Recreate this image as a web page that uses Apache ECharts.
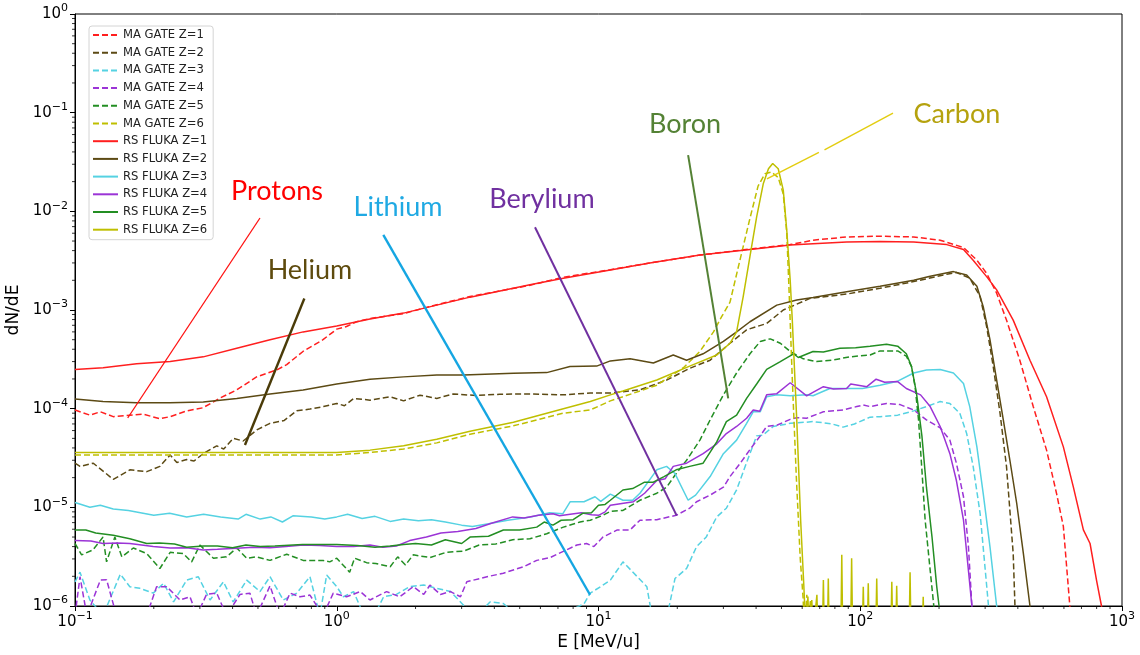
<!DOCTYPE html>
<html>
<head>
<meta charset="utf-8">
<script src="https://cdn.jsdelivr.net/npm/echarts/dist/echarts.min.js"></script>
<style>
  html, body { margin: 0; padding: 0; background: #fff; }
  #chart { width: 1140px; height: 655px; }
</style>
</head>
<body>
<div id="chart"></div>
<script>
// Energy spectra dN/dE versus E [MeV/u], pairs of [E, dN/dE]

// MA GATE (dashed)
const maZ1 = [[0.1,0.97e-4],[0.114,0.86e-4],[0.125,0.93e-4],[0.14,0.83e-4],[0.162,0.86e-4],[0.182,0.88e-4],[0.211,0.79e-4],[0.231,0.83e-4],[0.267,0.95e-4],[0.308,1.02e-4],[0.358,1.28e-4],[0.415,1.55e-4],[0.494,2.1e-4],[0.59,2.47e-4],[0.644,2.8e-4],[0.743,3.8e-4],[0.886,5.0e-4],[1.0,6.4e-4],[1.09,6.8e-4],[1.19,7.6e-4],[1.34,8.2e-4],[1.8,9.2e-4],[2.41,1.13e-3],[3.23,1.37e-3],[5.47,1.78e-3],[7.34,2.15e-3],[11.1,2.56e-3],[15.7,3.0e-3],[24.4,3.6e-3],[37.9,4.15e-3],[54,4.6e-3],[66,5.1e-3],[88.7,5.5e-3],[119,5.6e-3],[160,5.5e-3],[202,5.1e-3],[248,4.3e-3],[279,3.2e-3],[304,2.35e-3],[332,1.48e-3],[362,7.9e-4],[407,3.1e-4],[458,1.05e-4],[515,3.8e-5],[562,1.39e-5],[597,6.4e-6],[632,1.0e-6],[650,4e-7]];

const maZ2 = [[0.1,2.8e-5],[0.1045,2.6e-5],[0.1175,2.8e-5],[0.14,1.92e-5],[0.162,2.4e-5],[0.188,2.3e-5],[0.211,2.6e-5],[0.231,3.4e-5],[0.245,2.85e-5],[0.267,3.05e-5],[0.285,2.95e-5],[0.309,3.5e-5],[0.348,4.2e-5],[0.37,3.9e-5],[0.402,5.0e-5],[0.439,4.7e-5],[0.495,6.1e-5],[0.556,7.1e-5],[0.63,7.6e-5],[0.703,9.5e-5],[0.79,9.9e-5],[0.89,1.05e-4],[1.0,1.13e-4],[1.07,1.07e-4],[1.16,1.27e-4],[1.34,1.22e-4],[1.6,1.32e-4],[1.8,1.2e-4],[2.08,1.37e-4],[2.41,1.27e-4],[2.79,1.41e-4],[3.4,1.36e-4],[4.2,1.4e-4],[5.47,1.41e-4],[7.34,1.38e-4],[9.3,1.44e-4],[11.1,1.44e-4],[14.4,1.55e-4],[18.2,1.95e-4],[22.3,2.56e-4],[26.7,3.1e-4],[31.8,4.6e-4],[36.8,6.3e-4],[43.9,7.3e-4],[50.8,1.0e-3],[64.3,1.31e-3],[88.7,1.45e-3],[119,1.66e-3],[160,1.94e-3],[214,2.3e-3],[233,2.4e-3],[262,2.1e-3],[287,1.37e-3],[304,6.8e-4],[322,2.7e-4],[342,9.0e-5],[362,2.6e-5],[384,3.4e-6],[390,1.0e-6],[400,5e-7]];

const maZ3 = [[0.1,1.75e-6],[0.1045,2.2e-6],[0.114,1.15e-6],[0.128,8e-7],[0.149,2.1e-6],[0.162,1.57e-6],[0.177,1.51e-6],[0.199,1.35e-6],[0.218,1.7e-6],[0.238,1.1e-6],[0.267,1.83e-6],[0.296,1.98e-6],[0.328,1.15e-6],[0.369,1.76e-6],[0.402,1.1e-6],[0.453,1.83e-6],[0.509,1.4e-6],[0.556,1.98e-6],[0.625,1.15e-6],[0.703,1.35e-6],[0.79,1.98e-6],[0.862,8e-7],[0.915,2.06e-6],[1.0,1.57e-6],[1.06,1.24e-6],[1.16,1.4e-6],[1.27,8e-7],[1.39,8e-7],[1.51,1.24e-6],[1.69,1.31e-6],[1.9,1.57e-6],[2.15,1.63e-6],[2.41,1.51e-6],[2.72,1.4e-6],[3.05,1.02e-6],[3.43,8e-7],[3.85,1.1e-6],[4.33,1.06e-6],[4.9,8e-7],[5.6,9e-7],[6.2,8e-7],[7.0,9e-7],[8.1,9.5e-7],[8.8,1.05e-6],[9.3,1.35e-6],[10.3,1.6e-6],[11.1,1.83e-6],[12.4,2.8e-6],[15.3,1.57e-6],[16,8e-7],[18.3,8e-7],[19.6,1.9e-6],[21.7,2.4e-6],[23.7,4.0e-6],[25.8,5.0e-6],[28.3,8.0e-6],[30.8,9.8e-6],[33.7,1.5e-5],[36.8,2.85e-5],[40.2,5.3e-5],[42.5,5.4e-5],[46.5,6.6e-5],[54,7.1e-5],[62.4,7.3e-5],[66,7.4e-5],[72,7.2e-5],[78,7.0e-5],[86,6.5e-5],[95,7.0e-5],[109,8.2e-5],[119,8.3e-5],[139,8.6e-5],[160,9.5e-5],[179,1.05e-4],[202,1.18e-4],[220,1.13e-4],[240,9.0e-5],[255,5.6e-5],[270,2.6e-5],[287,8.7e-6],[298,2.9e-6],[309,1.0e-6],[320,5e-7]];

const maZ4 = [[0.1,8e-7],[0.1045,1.98e-6],[0.111,8e-7],[0.125,1.83e-6],[0.132,1.85e-6],[0.144,8e-7],[0.188,8e-7],[0.205,1.57e-6],[0.224,1.57e-6],[0.252,1.15e-6],[0.275,1.24e-6],[0.292,8e-7],[0.318,1.31e-6],[0.348,1.35e-6],[0.379,8e-7],[0.427,1.31e-6],[0.466,1.35e-6],[0.494,8e-7],[0.556,1.6e-6],[0.607,8e-7],[0.663,1.35e-6],[0.724,1.24e-6],[0.79,1.29e-6],[0.886,8e-7],[0.97,1.35e-6],[1.09,1.24e-6],[1.23,1.4e-6],[1.34,1.15e-6],[1.55,1.4e-6],[1.74,1.24e-6],[1.96,1.57e-6],[2.15,1.31e-6],[2.27,1.63e-6],[2.49,1.31e-6],[2.72,1.4e-6],[2.97,1.24e-6],[3.14,1.76e-6],[3.75,1.98e-6],[4.33,2.15e-6],[5.17,2.5e-6],[5.81,2.9e-6],[6.54,3.1e-6],[7.37,3.6e-6],[8.27,4.15e-6],[9.0,4.3e-6],[9.6,4.0e-6],[10.4,5.0e-6],[11.8,5.9e-6],[13.2,5.9e-6],[14.4,7.4e-6],[16.7,7.5e-6],[19.8,8.3e-6],[22.3,9.8e-6],[23.7,1.14e-5],[26.7,1.33e-5],[30,1.6e-5],[31.8,2.05e-5],[34.8,2.8e-5],[37.9,3.85e-5],[41.5,5.3e-5],[43.9,6.6e-5],[48,6.8e-5],[54,7.8e-5],[57.2,8.1e-5],[62.4,8.0e-5],[72.3,9.3e-5],[86,9.7e-5],[97,1.05e-4],[102.7,1.09e-4],[109,1.05e-4],[126,1.13e-4],[142,1.1e-4],[160,9.7e-5],[179,7.7e-5],[202,6.4e-5],[220,4.8e-5],[233,2.8e-5],[248,1.28e-5],[259,4.0e-6],[267,1.0e-6],[275,5e-7]];

const maZ5 = [[0.1,4.3e-6],[0.106,3.3e-6],[0.117,3.7e-6],[0.128,5.0e-6],[0.132,2.8e-6],[0.142,5.0e-6],[0.151,3.15e-6],[0.167,3.87e-6],[0.188,3.4e-6],[0.211,2.4e-6],[0.231,3.5e-6],[0.259,3.4e-6],[0.279,2.8e-6],[0.3,4.15e-6],[0.338,3.05e-6],[0.379,3.15e-6],[0.415,3.87e-6],[0.453,3.05e-6],[0.494,3.15e-6],[0.556,2.9e-6],[0.644,3.35e-6],[0.744,2.9e-6],[0.886,2.9e-6],[0.94,2.8e-6],[1.0,3.05e-6],[1.12,2.2e-6],[1.17,3.05e-6],[1.3,2.75e-6],[1.41,2.7e-6],[1.6,2.5e-6],[1.71,3.15e-6],[1.83,2.6e-6],[1.96,3.3e-6],[2.27,3.1e-6],[2.62,3.5e-6],[3.05,3.6e-6],[3.5,4.15e-6],[4.05,4.25e-6],[4.7,4.7e-6],[5.47,4.8e-6],[6.34,5.4e-6],[7.34,6.3e-6],[8.5,7.1e-6],[9.3,7.4e-6],[10.4,8.3e-6],[11.1,9.1e-6],[12.4,9.3e-6],[14.4,1.18e-5],[16.7,1.39e-5],[18.2,1.6e-5],[19.8,2.2e-5],[21.7,3.0e-5],[24.4,4.8e-5],[26.7,7.7e-5],[30,1.38e-4],[33.7,2.3e-4],[37.9,3.6e-4],[41.5,4.8e-4],[45.3,5.1e-4],[49.5,4.6e-4],[54,3.8e-4],[60.6,3.2e-4],[68,3.0e-4],[78,3.1e-4],[91,3.35e-4],[109,3.5e-4],[119,3.85e-4],[139,3.85e-4],[150,3.4e-4],[157,2.67e-4],[162,1.67e-4],[167,7.7e-5],[172,2.4e-5],[177,7.4e-6],[185,2.3e-6],[191,1.0e-6],[196,5e-7]];

const maZ6 = [[0.1,3.4e-5],[0.3,3.4e-5],[1.0,3.4e-5],[1.34,3.6e-5],[1.8,3.9e-5],[2.41,4.5e-5],[3.23,5.5e-5],[4.73,6.7e-5],[7.34,9.0e-5],[9.3,9.7e-5],[11.1,1.2e-4],[12.4,1.32e-4],[16.7,1.73e-4],[21.1,2.6e-4],[24.4,3.8e-4],[27.5,6.0e-4],[29.5,8.5e-4],[31.8,1.2e-3],[34.8,3.3e-3],[37.9,8.5e-3],[40.7,1.8e-2],[43.2,2.4e-2],[45.8,2.5e-2],[48.6,2.2e-2],[50.8,1.5e-2],[52.4,6.0e-3],[53.5,1.5e-3],[55,2.0e-4],[57,2.0e-5],[59,3.0e-6],[60.5,1.2e-6],[61.2,5e-7],[62.5,1.3e-6],[63.2,5e-7],[64.5,1.15e-6],[65.2,5e-7]];

// RS FLUKA (solid)
const rsZ1 = [[0.1,2.5e-4],[0.128,2.6e-4],[0.172,2.85e-4],[0.231,3.0e-4],[0.309,3.35e-4],[0.415,4.1e-4],[0.556,5.0e-4],[0.744,6.0e-4],[1.0,6.9e-4],[1.34,8.1e-4],[1.8,9.3e-4],[2.41,1.12e-3],[3.23,1.35e-3],[5.47,1.8e-3],[7.34,2.1e-3],[11.1,2.55e-3],[15.7,3.0e-3],[24.4,3.6e-3],[37.9,4.1e-3],[54,4.55e-3],[66,4.7e-3],[88.7,4.9e-3],[119,4.95e-3],[160,4.9e-3],[214,4.6e-3],[248,4.1e-3],[270,3.2e-3],[304,2.18e-3],[332,1.6e-3],[384,7.9e-4],[445,3.1e-4],[515,1.32e-4],[597,4.1e-5],[652,1.6e-5],[712,5.9e-6],[755,4.3e-6],[800,1.8e-6],[835,1.0e-6],[860,5e-7]];

const rsZ2 = [[0.1,1.25e-4],[0.128,1.18e-4],[0.172,1.15e-4],[0.23,1.15e-4],[0.309,1.17e-4],[0.415,1.27e-4],[0.556,1.41e-4],[0.744,1.55e-4],[1.0,1.78e-4],[1.34,1.99e-4],[1.8,2.1e-4],[2.41,2.2e-4],[3.05,2.2e-4],[4.73,2.28e-4],[6.34,2.32e-4],[7.78,2.67e-4],[9.84,2.7e-4],[11.1,3.05e-4],[13.2,3.2e-4],[16.2,2.9e-4],[19.3,3.5e-4],[21.7,3.1e-4],[25.1,3.6e-4],[30,4.8e-4],[33.7,6.0e-4],[37.9,7.6e-4],[48,1.12e-3],[57.2,1.26e-3],[66,1.34e-3],[88.7,1.53e-3],[119,1.74e-3],[160,2.0e-3],[185,2.2e-3],[227,2.45e-3],[255,2.26e-3],[279,1.74e-3],[295,1.08e-3],[313,5.0e-4],[332,1.95e-4],[352,7.7e-5],[373,3.0e-5],[396,1.1e-5],[420,3.4e-6],[445,1.0e-6],[460,5e-7]];

const rsZ3 = [[0.1,1.12e-5],[0.114,1.0e-5],[0.125,1.05e-5],[0.14,0.96e-5],[0.16,0.93e-5],[0.2,8.3e-6],[0.23,8.7e-6],[0.267,8.0e-6],[0.31,8.5e-6],[0.36,8.0e-6],[0.42,7.6e-6],[0.45,8.5e-6],[0.51,7.6e-6],[0.56,8.0e-6],[0.62,7.1e-6],[0.68,8.2e-6],[0.8,8.0e-6],[0.9,7.6e-6],[1.0,8.0e-6],[1.1,8.5e-6],[1.25,7.7e-6],[1.4,8.1e-6],[1.6,7.2e-6],[1.8,7.6e-6],[2.05,7.3e-6],[2.3,7.5e-6],[2.6,7.1e-6],[3.0,6.6e-6],[3.3,6.4e-6],[3.8,6.8e-6],[4.5,7.4e-6],[5.5,8.0e-6],[6.5,8.8e-6],[7.3,8.6e-6],[7.8,1.14e-5],[8.8,1.14e-5],[9.7,1.28e-5],[10.2,1.15e-5],[11.1,1.36e-5],[12.4,1.18e-5],[13.5,1.18e-5],[14.4,1.39e-5],[16.7,2.4e-5],[18.2,2.6e-5],[19.6,2.2e-5],[22.0,1.18e-5],[23.5,1.33e-5],[26.7,2.05e-5],[30,3.5e-5],[33.7,4.8e-5],[36.8,7.1e-5],[39,9.3e-5],[41.5,9.3e-5],[43.9,1.32e-4],[48,1.38e-4],[54,1.35e-4],[62.4,1.38e-4],[66,1.35e-4],[72.3,1.5e-4],[76.6,1.6e-4],[88.7,1.6e-4],[102,1.6e-4],[119,1.73e-4],[139,1.9e-4],[160,2.3e-4],[179,2.47e-4],[202,2.5e-4],[227,2.3e-4],[248,1.8e-4],[262,1.05e-4],[279,4.1e-5],[295,1.38e-5],[313,4.0e-6],[332,1.0e-6],[345,5e-7]];

const rsZ4 = [[0.1,4.6e-6],[0.115,4.55e-6],[0.128,4.3e-6],[0.145,4.35e-6],[0.162,4.3e-6],[0.199,4.0e-6],[0.231,3.87e-6],[0.267,3.9e-6],[0.309,3.7e-6],[0.35,3.75e-6],[0.415,3.85e-6],[0.48,3.95e-6],[0.556,3.9e-6],[0.64,4.0e-6],[0.744,4.15e-6],[0.86,4.1e-6],[1.0,4.0e-6],[1.16,4.0e-6],[1.34,4.15e-6],[1.5,3.95e-6],[1.69,4.05e-6],[1.9,4.6e-6],[2.2,5.0e-6],[2.5,5.5e-6],[2.9,5.7e-6],[3.4,6.1e-6],[3.9,6.9e-6],[4.7,8.0e-6],[5.2,7.8e-6],[5.9,8.3e-6],[6.7,8.6e-6],[7.1,8.2e-6],[7.8,8.5e-6],[8.6,8.8e-6],[9.4,8.4e-6],[10.0,8.3e-6],[10.6,9.0e-6],[11.1,1.05e-5],[13.6,1.14e-5],[15,1.39e-5],[16.7,1.87e-5],[18,1.95e-5],[19.3,2.6e-5],[21.7,2.8e-5],[25.1,3.5e-5],[28.3,4.4e-5],[30.8,5.6e-5],[33.7,6.6e-5],[36.8,8.0e-5],[39,9.7e-5],[41.3,9.4e-5],[43.9,1.38e-4],[48,1.42e-4],[54,1.83e-4],[62.4,1.35e-4],[72.3,1.67e-4],[79,1.58e-4],[88.7,1.6e-4],[92,1.78e-4],[106,1.67e-4],[115,1.99e-4],[124,1.85e-4],[139,1.88e-4],[150,1.6e-4],[170,1.38e-4],[185,1.05e-4],[202,6.6e-5],[220,3.5e-5],[233,1.87e-5],[248,7.4e-6],[259,2.3e-6],[267,1.0e-6],[275,5e-7]];

const rsZ5 = [[0.1,5.9e-6],[0.11,5.9e-6],[0.12,5.5e-6],[0.14,5.2e-6],[0.162,4.8e-6],[0.188,4.3e-6],[0.21,4.35e-6],[0.24,4.25e-6],[0.267,3.94e-6],[0.31,4.05e-6],[0.35,4.05e-6],[0.4,3.9e-6],[0.45,4.15e-6],[0.51,4.0e-6],[0.58,4.05e-6],[0.74,4.2e-6],[1.0,4.2e-6],[1.2,4.1e-6],[1.4,3.95e-6],[1.6,4.05e-6],[1.8,4.2e-6],[2.0,4.3e-6],[2.3,4.15e-6],[2.6,4.7e-6],[3.0,4.3e-6],[3.23,5.0e-6],[3.8,5.1e-6],[4.33,5.9e-6],[5.0,5.9e-6],[5.81,6.3e-6],[6.2,7.1e-6],[6.7,6.6e-6],[7.2,7.4e-6],[8.0,7.5e-6],[8.7,8.7e-6],[9.4,8.8e-6],[10,1.05e-5],[10.6,1.07e-5],[11.1,1.18e-5],[12.4,1.5e-5],[13.5,1.55e-5],[15,1.8e-5],[16.2,1.8e-5],[17.8,2.05e-5],[19.8,2.4e-5],[22.3,2.6e-5],[25.1,2.8e-5],[28.3,4.6e-5],[30.8,7.4e-5],[33.7,8.6e-5],[36.8,1.27e-4],[40.2,1.78e-4],[43.9,2.5e-4],[49.5,3.0e-4],[55.6,3.6e-4],[58,3.3e-4],[66,3.8e-4],[72.3,3.75e-4],[83.6,4.1e-4],[96,4.15e-4],[109,4.3e-4],[126,4.5e-4],[139,4.3e-4],[150,3.6e-4],[157,2.67e-4],[164,1.44e-4],[172,5.3e-5],[179,1.6e-5],[188,5.0e-6],[196,1.57e-6],[200,1.0e-6],[205,5e-7]];

const rsZ6 = [[0.1,3.6e-5],[0.3,3.6e-5],[1.0,3.6e-5],[1.34,3.8e-5],[1.8,4.2e-5],[2.41,4.9e-5],[3.23,5.9e-5],[4.73,7.3e-5],[7.34,1.0e-4],[9.3,1.18e-4],[11.1,1.38e-4],[12.4,1.51e-4],[16.7,1.95e-4],[22.3,2.7e-4],[28.3,3.5e-4],[31.8,4.6e-4],[33.7,6.0e-4],[35.7,1.36e-3],[37.9,3.5e-3],[40.2,8.8e-3],[42.6,1.9e-2],[44.6,2.7e-2],[46.3,3.05e-2],[48.6,2.7e-2],[50.8,1.64e-2],[52.4,6.4e-3],[54,2.0e-3],[55,7.9e-4],[57.2,7.7e-5],[59.2,7.4e-6],[60.9,1.57e-6],[62,5e-7],[63.1,1.25e-6],[63.8,5e-7],[65.3,1.15e-6],[66,5e-7],[68.3,1.3e-6],[69,5e-7],[71.7,5e-7],[72.3,1.83e-6],[72.9,5e-7],[74.9,5e-7],[75.5,1.9e-6],[76.1,5e-7],[84.3,5e-7],[85,3.3e-6],[85.7,5e-7],[91.9,5e-7],[92.7,3.05e-6],[93.5,5e-7],[101.8,5e-7],[102.7,1.57e-6],[103.6,5e-7],[106.4,5e-7],[107.3,1.7e-6],[108.2,5e-7],[114.6,5e-7],[115.6,1.9e-6],[116.6,5e-7],[130.9,5e-7],[132,1.76e-6],[133.1,5e-7],[136.6,5e-7],[137.8,1.6e-6],[139,5e-7],[153.7,5e-7],[155,2.2e-6],[156.3,5e-7],[172.6,5e-7],[174,1.24e-6],[175.4,5e-7],[190,5e-7]];

const seriesNames = ['MA GATE Z=1','MA GATE Z=2','MA GATE Z=3','MA GATE Z=4','MA GATE Z=5','MA GATE Z=6',
                     'RS FLUKA Z=1','RS FLUKA Z=2','RS FLUKA Z=3','RS FLUKA Z=4','RS FLUKA Z=5','RS FLUKA Z=6'];
const seriesData = [maZ1, maZ2, maZ3, maZ4, maZ5, maZ6, rsZ1, rsZ2, rsZ3, rsZ4, rsZ5, rsZ6];
const zColors = ['#ff1f1f', '#5c4a14', '#55d2e2', '#9b34d6', '#238e23', '#bfbf00'];

// Element labels and their leader lines, in data coordinates [E, dN/dE]
const labelNames  = ['Protons', 'Helium', 'Lithium', 'Berylium', 'Boron', 'Carbon'];
const labelColors = ['#ff0000', '#5e4b0e', '#1fa9e3', '#7030a0', '#548235', '#b5a20e'];
const labelAt     = [[0.591, 1.61e-2], [0.79, 2.55e-3], [1.714, 1.11e-2], [6.08, 1.33e-2], [21.4, 7.67e-2], [234, 9.69e-2]];
const leaderColors = ['#ff1010', '#4a3b08', '#15a6e2', '#7030a0', '#548235', '#e3cd10'];
const leaderWidths = [1.3, 2.4, 2.4, 2.0, 2.0, 1.4];
const leaders = [
  [[[0.509, 8.56e-3], [0.159, 8.04e-5]]],
  [[[0.752, 1.31e-3], [0.446, 4.28e-5]]],
  [[[1.506, 5.76e-3], [9.28, 1.3e-6]]],
  [[[5.72, 6.89e-3], [19.9, 8.23e-6]]],
  [[[22.0, 3.72e-2], [31.3, 1.27e-4]]],
  [[[133.4, 9.92e-2], [73.0, 4.2e-2]], [[69.5, 3.95e-2], [44.0, 2.13e-2]]]
];

// Axis ranges and tick decades
const xDecades = [-1, 0, 1, 2, 3];
const yDecades = [-6, -5, -4, -3, -2, -1, 0];

const chart = echarts.init(document.getElementById('chart'), null, { renderer: 'canvas' });

const minorX = [];
xDecades.slice(0, -1).forEach(d => { for (let m = 2; m <= 9; m++) minorX.push([m * Math.pow(10, d), 1e-6]); });
const minorY = [];
yDecades.slice(0, -1).forEach(d => { for (let m = 2; m <= 9; m++) minorY.push([0.1, m * Math.pow(10, d)]); });

const tickFont = 'DejaVu Sans';
function powLabel(v) {
  const e = Math.round(Math.log10(v));
  return '{b|10}{s|' + (e < 0 ? '\u2212' + (-e) : String(e)) + '}';
}
const powRich = {
  b: { fontSize: 15, fontFamily: tickFont, color: '#000', lineHeight: 22 },
  s: { fontSize: 11, fontFamily: tickFont, color: '#000', lineHeight: 10, verticalAlign: 'top' }
};

const series = [];
seriesNames.forEach((name, i) => {
  const dashed = i < 6;
  series.push({
    name: name,
    type: 'line',
    data: seriesData[i],
    symbol: 'none',
    clip: true,
    smooth: false,
    lineStyle: { color: zColors[i % 6], width: 1.5, type: dashed ? [6, 3] : 'solid' },
    itemStyle: { color: zColors[i % 6] },
    emphasis: { disabled: true },
    silent: true,
    z: 2
  });
});

leaders.forEach((segs, i) => {
  segs.forEach(seg => {
    series.push({
      type: 'line',
      data: seg,
      symbol: 'none',
      clip: false,
      lineStyle: { color: leaderColors[i], width: leaderWidths[i] },
      emphasis: { disabled: true },
      silent: true,
      z: 3
    });
  });
});

series.push({
  type: 'custom',
  data: labelAt,
  silent: true,
  z: 4,
  renderItem: function (params, api) {
    const p = api.coord([api.value(0), api.value(1)]);
    return {
      type: 'text', x: p[0], y: p[1],
      style: {
        text: labelNames[params.dataIndex],
        fill: labelColors[params.dataIndex],
        font: '27px Lato',
        align: 'center', verticalAlign: 'middle'
      }
    };
  }
});

// minor ticks at 2..9 x each decade
series.push({
  type: 'custom',
  data: minorX,
  silent: true,
  z: 5,
  renderItem: function (params, api) {
    const p = api.coord([api.value(0), api.value(1)]);
    return { type: 'line', shape: { x1: p[0], y1: p[1], x2: p[0], y2: p[1] + 3 }, style: { stroke: '#000', lineWidth: 0.8 } };
  }
});
series.push({
  type: 'custom',
  data: minorY,
  silent: true,
  z: 5,
  renderItem: function (params, api) {
    const p = api.coord([api.value(0), api.value(1)]);
    return { type: 'line', shape: { x1: p[0] - 3, y1: p[1], x2: p[0], y2: p[1] }, style: { stroke: '#000', lineWidth: 0.8 } };
  }
});

chart.setOption({
  animation: false,
  backgroundColor: '#fff',
  grid: {
    left: 75, right: 18, top: 14, bottom: 49,
    containLabel: false, outerBoundsMode: 'none',
    show: true, borderColor: '#000', borderWidth: 1, backgroundColor: 'transparent'
  },
  legend: {
    data: seriesNames,
    orient: 'vertical',
    left: 89, top: 26,
    itemWidth: 25, itemHeight: 12, itemGap: 5.7,
    padding: [3, 6, 4, 3],
    backgroundColor: '#fff',
    borderColor: '#d4d4d4', borderWidth: 1, borderRadius: 3,
    textStyle: { fontFamily: tickFont, fontSize: 11.6, color: '#222', lineHeight: 12 },
    itemStyle: { opacity: 0 },
    selectedMode: false
  },
  xAxis: {
    type: 'log', logBase: 10, min: 0.1, max: 1000,
    name: 'E [MeV/u]', nameLocation: 'middle', nameGap: 24,
    nameTextStyle: { fontFamily: tickFont, fontSize: 17, color: '#000' },
    axisLine: { show: true, onZero: false, lineStyle: { color: '#000', width: 1 } },
    axisTick: { show: true, length: 5, lineStyle: { color: '#000' } },
    axisLabel: { formatter: powLabel, rich: powRich, margin: 5 },
    splitLine: { show: false }
  },
  yAxis: {
    type: 'log', logBase: 10, min: 1e-6, max: 1,
    name: 'dN/dE', nameLocation: 'middle', nameGap: 45, nameRotate: 90,
    nameTextStyle: { fontFamily: tickFont, fontSize: 17, color: '#000' },
    axisLine: { show: true, onZero: false, lineStyle: { color: '#000', width: 1 } },
    axisTick: { show: true, length: 5, lineStyle: { color: '#000' } },
    axisLabel: { formatter: powLabel, rich: powRich, margin: 7 },
    splitLine: { show: false }
  },
  series: series
});
</script>
</body>
</html>
